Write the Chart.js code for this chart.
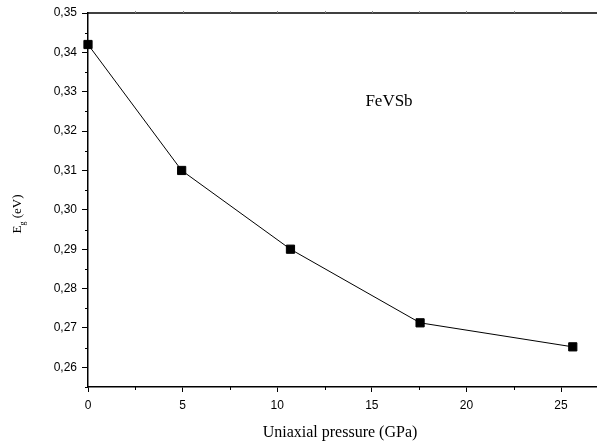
<!DOCTYPE html>
<html lang="en">
<head>
    <meta charset="UTF-8">
    <title>FeVSb band gap vs uniaxial pressure</title>
    <script src="https://cdn.jsdelivr.net/npm/chart.js"></script>
    <style>
        html, body { margin: 0; padding: 0; background: #fff; overflow: hidden; }
        #gapChart { display: block; }
    </style>
</head>
<body>
    <canvas id="gapChart" width="597" height="445"></canvas>

    <script>
        // Band gap of FeVSb under uniaxial pressure
        const pressure = [0, 4.95, 10.7, 17.55, 25.62];
        const gap = [0.342, 0.310, 0.290, 0.2713, 0.2652];

        const xTickValues = [0, 5, 10, 15, 20, 25];
        const yTickValues = [0.26, 0.27, 0.28, 0.29, 0.30, 0.31, 0.32, 0.33, 0.34, 0.35];
        const compoundLabel = 'FeVSb';

        const sansFont = "'Liberation Sans', Arial, sans-serif";
        const serifFont = "'Liberation Serif', 'Times New Roman', serif";

        // minor ticks, titles and the frame line on top
        const decorations = {
            id: 'decorations',
            afterDraw(chart) {
                const { ctx, chartArea: a, scales: { x, y } } = chart;
                ctx.save();
                ctx.strokeStyle = '#000';
                ctx.lineWidth = 1;

                // x minor ticks every 2.5
                for (let v = 2.5; v < x.max; v += 5) {
                    const px = Math.round(x.getPixelForValue(v)) + 0.5;
                    ctx.beginPath();
                    ctx.moveTo(px, a.bottom);
                    ctx.lineTo(px, a.bottom + 3);
                    ctx.stroke();
                }
                // y minor ticks every 0.005
                for (let v = 0.255; v < y.max; v += 0.01) {
                    const py = Math.round(y.getPixelForValue(v)) + 0.5;
                    ctx.beginPath();
                    ctx.moveTo(a.left, py);
                    ctx.lineTo(a.left - 3, py);
                    ctx.stroke();
                }

                // top frame line with small ticks
                ctx.lineWidth = 1.5;
                ctx.beginPath();
                ctx.moveTo(a.left, a.top);
                ctx.lineTo(a.right, a.top);
                ctx.stroke();
                ctx.lineWidth = 1;
                ctx.strokeStyle = '#888';
                for (let v = 2.5; v < x.max; v += 2.5) {
                    const px = Math.round(x.getPixelForValue(v)) + 0.5;
                    ctx.beginPath();
                    ctx.moveTo(px, a.top);
                    ctx.lineTo(px, a.top - 2);
                    ctx.stroke();
                }

                ctx.fillStyle = '#000';

                // x axis title
                ctx.font = '16px ' + serifFont;
                ctx.textAlign = 'center';
                ctx.textBaseline = 'middle';
                ctx.fillText('Uniaxial pressure (GPa)', 340, 433);

                // y axis title: E with subscript g
                ctx.save();
                ctx.translate(18, 214);
                ctx.rotate(-Math.PI / 2);
                ctx.textAlign = 'left';
                ctx.textBaseline = 'middle';
                const main = 'E';
                const rest = ' (eV)';
                ctx.font = '13px ' + serifFont;
                const wE = ctx.measureText(main).width;
                ctx.font = '8px ' + serifFont;
                const wg = ctx.measureText('g').width;
                ctx.font = '13px ' + serifFont;
                const wRest = ctx.measureText(rest).width;
                let start = -(wE + wg + wRest) / 2;
                ctx.fillText(main, start, 0);
                ctx.font = '8px ' + serifFont;
                ctx.fillText('g', start + wE, 5);
                ctx.font = '13px ' + serifFont;
                ctx.fillText(rest, start + wE + wg, 0);
                ctx.restore();

                // compound label inside the plot
                ctx.font = '17px ' + serifFont;
                ctx.textAlign = 'center';
                ctx.textBaseline = 'middle';
                ctx.fillText(compoundLabel, 389, 102);

                ctx.restore();
            }
        };

        const ctx = document.getElementById('gapChart').getContext('2d');
        const gapChart = new Chart(ctx, {
            type: 'scatter',
            data: {
                datasets: [{
                    label: 'FeVSb',
                    data: pressure.map((p, i) => ({ x: p, y: gap[i] })),
                    showLine: true,
                    borderColor: '#000',
                    borderWidth: 1,
                    backgroundColor: '#000',
                    pointStyle: 'rect',
                    pointRadius: 5.8,
                    pointHoverRadius: 5.8,
                    clip: false
                }]
            },
            options: {
                responsive: false,
                animation: false,
                layout: {
                    autoPadding: false,
                    padding: { top: 13, right: 0, left: 0, bottom: 0 }
                },
                plugins: {
                    legend: { display: false },
                    tooltip: { enabled: false }
                },
                scales: {
                    x: {
                        type: 'linear',
                        min: 0,
                        max: 26.9,
                        afterFit: (scale) => {
                            scale.height = 58;
                        },
                        afterBuildTicks: (scale) => {
                            scale.ticks = xTickValues.map(v => ({ value: v }));
                        },
                        border: { display: true, color: '#000', width: 1.5 },
                        grid: {
                            display: true,
                            drawOnChartArea: false,
                            drawTicks: true,
                            tickLength: 5,
                            tickColor: '#000',
                            tickWidth: 1
                        },
                        ticks: {
                            autoSkip: false,
                            maxRotation: 0,
                            padding: 6,
                            color: '#000',
                            font: { family: sansFont, size: 12 }
                        }
                    },
                    y: {
                        type: 'linear',
                        min: 0.255,
                        max: 0.35,
                        afterFit: (scale) => {
                            scale.width = 88;
                        },
                        afterBuildTicks: (scale) => {
                            scale.ticks = yTickValues.map(v => ({ value: v }));
                        },
                        border: { display: true, color: '#000', width: 1.5 },
                        grid: {
                            display: true,
                            drawOnChartArea: false,
                            drawTicks: true,
                            tickLength: 6,
                            tickColor: '#000',
                            tickWidth: 1
                        },
                        ticks: {
                            autoSkip: false,
                            padding: 5,
                            color: '#000',
                            font: { family: sansFont, size: 12 },
                            callback: (v) => Number(v).toFixed(2).replace('.', ',')
                        }
                    }
                }
            },
            plugins: [decorations]
        });
    </script>
</body>
</html>
